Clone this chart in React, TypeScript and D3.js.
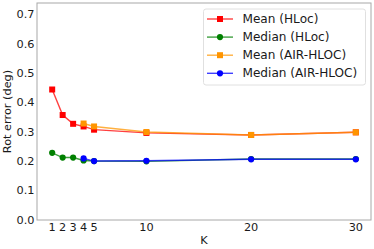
import React from "react";
import * as d3 from "d3";

const kValues = [1, 2, 3, 4, 5, 10, 20, 30];
const airK = [4, 5, 10, 20, 30];

const meanHloc = [0.445, 0.358, 0.328, 0.319, 0.308, 0.297, 0.29, 0.299];
const medianHloc = [0.229, 0.213, 0.213, 0.203, 0.201, 0.2, 0.208, 0.208];
const meanAir = [0.329, 0.319, 0.3, 0.29, 0.299];
const medianAir = [0.21, 0.201, 0.202, 0.207, 0.207];

const yTicks = [0, 0.1, 0.2, 0.3, 0.4, 0.5, 0.6, 0.7];
const xTicks = [1, 2, 3, 4, 5, 10, 20, 30];

const series = [
  { name: "Mean (HLoc)", color: "#ff0000", marker: "square", ks: kValues, vals: meanHloc },
  { name: "Median (HLoc)", color: "#008000", marker: "circle", ks: kValues, vals: medianHloc },
  { name: "Mean (AIR-HLOC)", color: "#ff9500", marker: "square", ks: airK, vals: meanAir },
  { name: "Median (AIR-HLOC)", color: "#0000ff", marker: "circle", ks: airK, vals: medianAir },
];

const width = 374;
const height = 249;
const margin = { top: 3, right: 3, bottom: 29, left: 37 };
const font = "DejaVu Sans";
const fs = 11.3;
const legendFs = 12.1;

function Marker({ type, x, y, color }) {
  if (type === "square") {
    return <rect x={x - 3} y={y - 3} width={6} height={6} fill={color} />;
  }
  return <circle cx={x} cy={y} r={3.1} fill={color} />;
}

export default function App() {
  const x = d3
    .scaleLinear()
    .domain([-0.45, 31.45])
    .range([margin.left, width - margin.right]);
  const y = d3
    .scaleLinear()
    .domain([0, 0.74])
    .range([height - margin.bottom, margin.top]);

  const line = d3
    .line<[number, number]>()
    .x((d) => x(d[0]))
    .y((d) => y(d[1]));

  const lx = 207;
  const ly = 19;
  const rowH = 18.1;

  return (
    <svg
      width={width}
      height={height}
      style={{ position: "absolute", left: 0, top: 0, background: "#fff" }}
      fontFamily={font}
    >
      {series.map((s) => {
        const pts = s.ks.map((k, i) => [k, s.vals[i]] as [number, number]);
        return (
          <g key={s.name}>
            <path
              d={line(pts) || ""}
              fill="none"
              stroke={s.color}
              strokeOpacity={0.75}
              strokeWidth={1.4}
            />
            {pts.map((p, i) => (
              <Marker key={i} type={s.marker} x={x(p[0])} y={y(p[1])} color={s.color} />
            ))}
          </g>
        );
      })}

      <rect
        x={margin.left}
        y={margin.top}
        width={width - margin.left - margin.right}
        height={height - margin.top - margin.bottom}
        fill="none"
        stroke="#a8a8a8"
        strokeWidth={1}
      />

      {yTicks.map((t) => (
        <text
          key={t}
          x={margin.left - 2.5}
          y={y(t)}
          textAnchor="end"
          dominantBaseline="central"
          fontSize={fs}
          fill="#1a1a1a"
        >
          {t.toFixed(1)}
        </text>
      ))}
      {xTicks.map((t) => (
        <text
          key={t}
          x={x(t)}
          y={height - margin.bottom + 7.5}
          textAnchor="middle"
          dominantBaseline="central"
          fontSize={fs}
          fill="#1a1a1a"
        >
          {t}
        </text>
      ))}

      <text
        x={(margin.left + width - margin.right) / 2}
        y={240}
        textAnchor="middle"
        dominantBaseline="central"
        fontSize={fs}
        fill="#1a1a1a"
      >
        K
      </text>
      <text
        transform={`translate(7.5,${(margin.top + height - margin.bottom) / 2}) rotate(-90)`}
        textAnchor="middle"
        dominantBaseline="central"
        fontSize={fs}
        fill="#1a1a1a"
      >
        Rot error (deg)
      </text>

      <rect
        x={203.5}
        y={9}
        width={162}
        height={76}
        rx={2.5}
        fill="#fff"
        fillOpacity={0.8}
        stroke="#e0e0e0"
        strokeWidth={1}
      />
      {series.map((s, i) => (
        <g key={s.name}>
          <line
            x1={lx}
            x2={lx + 26}
            y1={ly + i * rowH}
            y2={ly + i * rowH}
            stroke={s.color}
            strokeOpacity={0.75}
            strokeWidth={1.4}
          />
          <Marker type={s.marker} x={lx + 13} y={ly + i * rowH} color={s.color} />
          <text
            x={242.5}
            y={ly + i * rowH}
            dominantBaseline="central"
            fontSize={legendFs}
            fill="#1a1a1a"
          >
            {s.name}
          </text>
        </g>
      ))}
    </svg>
  );
}
